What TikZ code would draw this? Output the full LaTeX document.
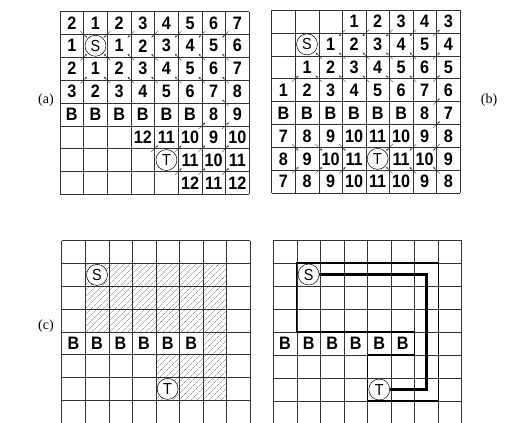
\documentclass[tikz,border=0pt]{standalone}
\usepackage{fontspec}
\setmainfont{Liberation Serif}
\newfontfamily\cellfam{Liberation Sans}[FakeStretch=0.9]
\usetikzlibrary{arrows.meta,patterns.meta}

\begin{document}
\begin{tikzpicture}[
  every node/.style={font=\cellfam\bfseries\fontsize{18}{18}\selectfont},
  gridln/.style={draw=black!80,line width=0.5pt},
  cellnum/.style={inner sep=0pt},
  term/.style={circle,draw=black,line width=0.5pt,fill=white,inner sep=0pt,minimum size=21pt,
    font=\cellfam\fontsize{16}{16}\selectfont},
  trace/.style={-{Stealth[length=2.4pt,width=2pt]},line width=0.35pt,black!80},
  zone/.style={draw=black,line width=1.1pt},
  route/.style={draw=black,line width=2.6pt},
  hatch/.style={pattern={Lines[angle=45,distance=4pt,line width=0.35pt]},pattern color=black!55},
  panel/.style={font=\rmfamily\fontsize{14}{14}\selectfont}]
\useasboundingbox (0pt,0pt) rectangle (506pt,-423pt);

% (a) wave from S, -1 = empty, 0 = blocked
\begin{scope}[shift={(60pt,-11.5pt)},x={(23.65pt,0pt)},y={(0pt,-22.85pt)}]
\foreach \i in {0,...,8} {\draw[gridln] (\i,0) -- (\i,8); \draw[gridln] (0,\i) -- (8,\i);}
\foreach \row [count=\rw from 0] in {{2,1,2,3,4,5,6,7},{1,-1,1,2,3,4,5,6},{2,1,2,3,4,5,6,7},
    {3,2,3,4,5,6,7,8},{0,0,0,0,0,0,8,9},{-1,-1,-1,12,11,10,9,10},{-1,-1,-1,-1,-1,11,10,11},
    {-1,-1,-1,-1,-1,12,11,12}}
  \foreach \val [count=\cl from 0] in \row
    {\ifnum\val>-1 \node[cellnum] (a-\rw-\cl) at (\cl+0.5,\rw+0.5) {\ifnum\val=0 B\else\val\fi};\fi}
\foreach \px in {1,...,7}
  \foreach \py in {1,2,3} {
    \pgfmathsetmacro\dx{sign(1.5-\px)}
    \pgfmathsetmacro\dy{sign(1.5-\py)}
    \draw[trace] ({\px-0.14*\dx},{\py-0.14*\dy}) -- ({\px+0.14*\dx},{\py+0.14*\dy});
  }
\foreach \px/\py/\dx/\dy in {7/4/-1/-1,6/5/1/-1,7/5/1/-1,4/6/1/-1,5/6/1/-1,6/6/1/-1,7/6/1/-1,
    5/7/1/-1,6/7/1/-1,7/7/1/-1}
  \draw[trace] ({\px-0.14*\dx},{\py-0.14*\dy}) -- ({\px+0.14*\dx},{\py+0.14*\dy});
\node[term] (aS) at (1.5,1.5) {S};
\node[term] (aT) at (4.5,6.5) {T};
\end{scope}

% (b)
\begin{scope}[shift={(271.7pt,-10pt)},x={(23.54pt,0pt)},y={(0pt,-22.9pt)}]
\foreach \i in {0,...,8} {\draw[gridln] (\i,0) -- (\i,8); \draw[gridln] (0,\i) -- (8,\i);}
\foreach \row [count=\rw from 0] in {{-1,-1,-1,1,2,3,4,3},{-1,-1,1,2,3,4,5,4},{-1,1,2,3,4,5,6,5},
    {1,2,3,4,5,6,7,6},{0,0,0,0,0,0,8,7},{7,8,9,10,11,10,9,8},{8,9,10,11,-1,11,10,9},
    {7,8,9,10,11,10,9,8}}
  \foreach \val [count=\cl from 0] in \row
    {\ifnum\val>-1 \node[cellnum] (b-\rw-\cl) at (\cl+0.5,\rw+0.5) {\ifnum\val=0 B\else\val\fi};\fi}
\foreach \px/\py/\dx/\dy in {3/1/-1/1,4/1/-1/1,5/1/-1/1,6/1/-1/1,7/1/1/-1,2/2/-1/-1,3/2/-1/-1,
    4/2/-1/-1,5/2/-1/-1,6/2/-1/-1,7/2/1/-1,1/3/1/-1,2/3/-1/-1,3/3/-1/-1,4/3/-1/-1,5/3/-1/-1,
    6/3/-1/-1,7/3/1/-1,7/4/1/-1,7/5/1/-1}
  \draw[trace] ({\px-0.14*\dx},{\py-0.14*\dy}) -- ({\px+0.14*\dx},{\py+0.14*\dy});
\foreach \px/\py/\dx/\dy in {1/6/1/1,2/6/1/1,3/6/1/1,5/6/-1/1,6/6/-1/1,7/6/-1/1,
    1/7/1/-1,2/7/1/-1,3/7/1/-1,5/7/-1/-1,6/7/-1/-1,7/7/-1/-1}
  \draw[trace] ({\px-0.14*\dx},{\py-0.14*\dy}) -- ({\px+0.14*\dx},{\py+0.14*\dy});
\node[term] (bS) at (1.5,1.5) {S};
\node[term] (bT) at (4.5,6.5) {T};
\end{scope}

% (c) searched area
\begin{scope}[shift={(61.7pt,-240.7pt)},x={(23.54pt,0pt)},y={(0pt,-22.8pt)}]
\fill[hatch] (1,1) -- (7,1) -- (7,7) -- (4,7) -- (4,5) -- (6,5) -- (6,4) -- (1,4) -- cycle;
\foreach \i in {0,...,8} {\draw[gridln] (\i,0) -- (\i,8); \draw[gridln] (0,\i) -- (8,\i);}
\foreach \cl in {0,...,5} \node[cellnum] (c-4-\cl) at (\cl+0.5,4.5) {B};
\node[term] (cS) at (1.5,1.5) {S};
\node[term] (cT) at (4.5,6.5) {T};
\end{scope}

% (c) route
\begin{scope}[shift={(273.3pt,-240pt)},x={(23.55pt,0pt)},y={(0pt,-23pt)}]
\foreach \i in {0,...,8} {\draw[gridln] (\i,0) -- (\i,8); \draw[gridln] (0,\i) -- (8,\i);}
\draw[zone] (1,1) -- (7,1) -- (7,7) -- (4,7) -- (4,5) -- (6,5) -- (6,4) -- (1,4) -- cycle;
\foreach \cl in {0,...,5} \node[cellnum,fill=white] (d-4-\cl) at (\cl+0.5,4.5) {B};
\node[term] (dS) at (1.5,1.5) {S};
\node[term] (dT) at (4.5,6.5) {T};
\coordinate (dK) at (6.5,6.5);
\draw[route] (dS) -| (dK) -- (dT);
\end{scope}

\node[panel] (la) at (46pt,-100pt) {(a)};
\node[panel] (lb) at (489pt,-100pt) {(b)};
\node[panel] (lc) at (46pt,-326pt) {(c)};
\end{tikzpicture}
\end{document}
